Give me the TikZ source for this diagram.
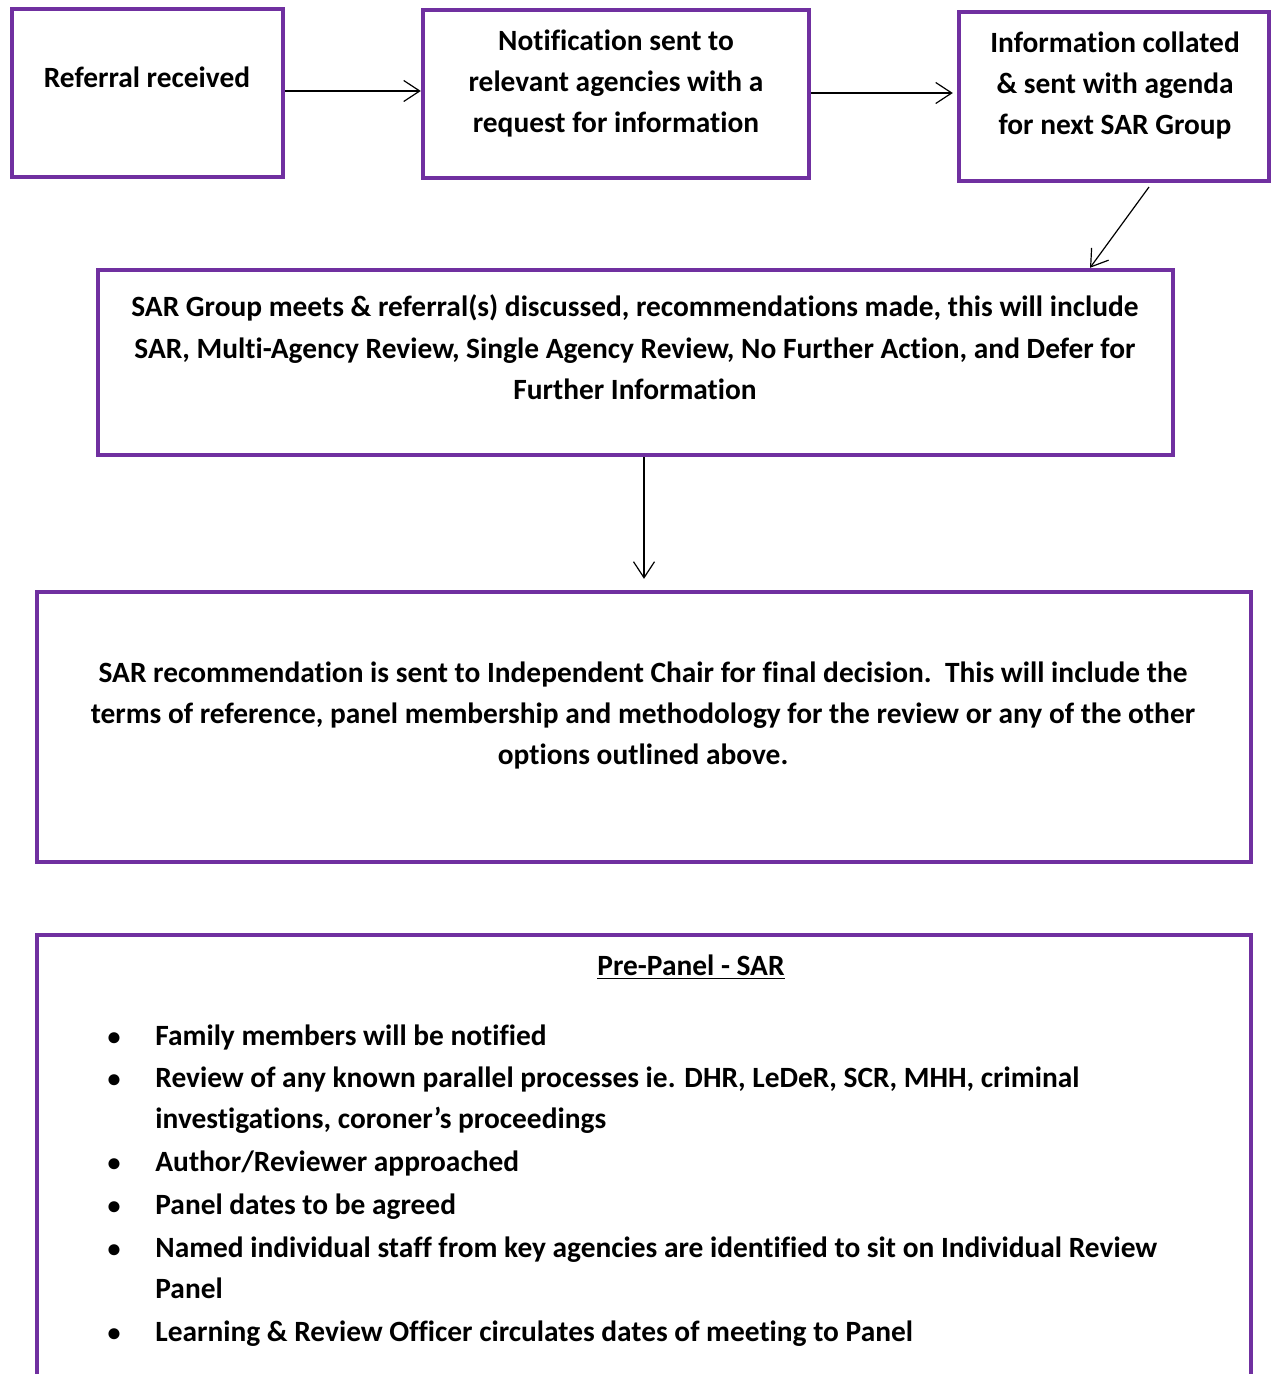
\documentclass[tikz,border=0pt]{standalone}
\usepackage{fontspec}
\setmainfont{Carlito}[Ligatures=NoCommon]
\usetikzlibrary{arrows.meta,calc}
\definecolor{boxpurple}{HTML}{7030A0}
\begin{document}
\begin{tikzpicture}[x=0.5pt,y=-0.5pt,
  box/.style={draw=boxpurple,line width=2.2pt,rectangle,inner sep=0pt},
  txt/.style={font=\fontsize{14.7}{20.5}\selectfont\bfseries,inner sep=0pt,align=center,anchor=base},
  itm/.style={font=\fontsize{14.7}{20.5}\selectfont\bfseries,inner sep=0pt,align=left,anchor=base west},
  bul/.style={font=\fontsize{13}{20.5}\selectfont\bfseries,inner sep=0pt,anchor=base},
  arr/.style={-{Straight Barb[length=8pt,width=10.5pt]},line width=0.6pt,black}]
\clip (0,0) rectangle (1271,1374);
\useasboundingbox (0,0) rectangle (1271,1374);
% boxes
\node[box,minimum width=135.5pt,minimum height=84pt] (b1) at (147.5,93) {};
\node[box,minimum width=193pt,minimum height=84pt] (b2) at (616,94) {};
\node[box,minimum width=155pt,minimum height=84.5pt] (b3) at (1114,96.5) {};
\node[box,minimum width=537.5pt,minimum height=92.5pt] (b4) at (635.5,362.5) {};
\node[box,minimum width=607pt,minimum height=135pt] (b5) at (644,727) {};
\node[box,minimum width=607pt,minimum height=240pt] (b6) at (644,1175) {};
% texts (anchor = baseline of the last line)
\node[txt] (t1) at (147,88) {Referral received};
\node[txt] (t2) at (616,133) {Notification sent to\\relevant agencies with a\\request for information};
\node[txt] (t3) at (1115,135) {Information collated\\\& sent with agenda\\for next SAR Group};
\node[txt] (t4) at (635,399) {SAR Group meets \& referral(s) discussed, recommendations made, this will include\\SAR, Multi-Agency Review, Single Agency Review, No Further Action, and Defer for\\Further Information};
\node[txt] (t5) at (643,764) {SAR recommendation is sent to Independent Chair for final decision.\ \ This will include the\\terms of reference, panel membership and methodology for the review or any of the other\\options outlined above.};
\node[txt] (t6) at (691,975) {\underline{Pre-Panel - SAR}};
% bullets
\foreach \y [count=\i] in {1045,1087,1171,1214,1257,1341}
  \node[bul] (bu\i) at (114,\y) {\textbullet};
\node[itm] (i1) at (155,1045) {Family members will be notified};
\node[itm] (i2) at (155,1128) {Review of any known parallel processes ie. DHR, LeDeR, SCR, MHH, criminal\\investigations, coroner’s proceedings};
\node[itm] (i3) at (155,1171) {Author/Reviewer approached};
\node[itm] (i4) at (155,1214) {Panel dates to be agreed};
\node[itm] (i5) at (155,1298) {Named individual staff from key agencies are identified to sit on Individual Review\\Panel};
\node[itm] (i6) at (155,1341) {Learning \& Review Officer circulates dates of meeting to Panel};
% connectors
\coordinate (a3s) at (1149,187);
\draw[arr] ($(b1.east)+(0,-2)$) -- ($(b1.east -| b2.west)+(0,-2)$);
\draw[arr,shorten >=2pt] ($(b2.east)+(0,-1)$) -- ($(b2.east -| b3.west)+(0,-1)$);
\draw[arr] (a3s) -- ($(b4.north)+(454.5,0)$);
\draw[arr,shorten >=5.5pt] (b4.south -| b5.north) -- (b5.north);
\end{tikzpicture}
\end{document}
